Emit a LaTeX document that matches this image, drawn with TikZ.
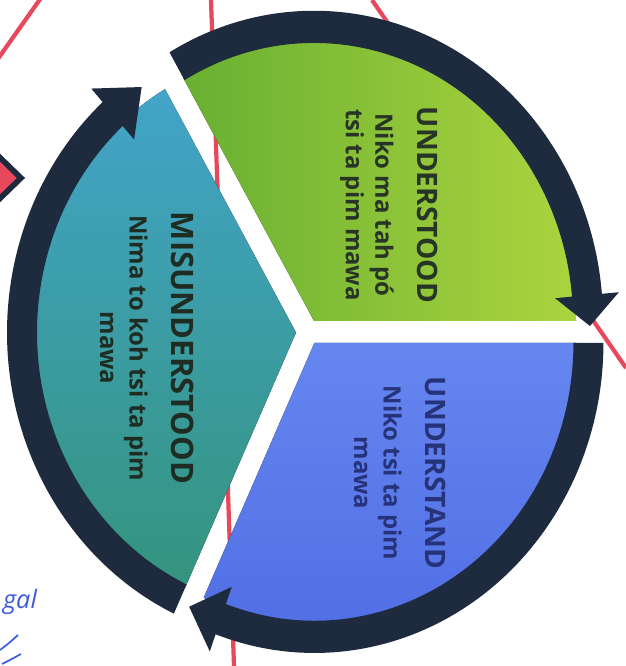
\documentclass[tikz,border=0pt]{standalone}
\usepackage{fontspec}
\setmainfont{Open Sans}
\definecolor{ringnavy}{RGB}{30,42,62}
\definecolor{redline}{RGB}{232,72,92}
\definecolor{inkblue}{RGB}{60,90,220}
\definecolor{leafdark}{RGB}{104,176,50}
\definecolor{leaflight}{RGB}{172,212,62}
\definecolor{tealtop}{RGB}{66,164,200}
\definecolor{tealbottom}{RGB}{52,148,126}
\definecolor{bluetop}{RGB}{102,134,240}
\definecolor{bluebottom}{RGB}{80,110,228}
\definecolor{greentext}{RGB}{40,52,38}
\definecolor{bluetext}{RGB}{38,50,122}
\definecolor{tealtext}{RGB}{30,44,34}

\tikzset{
    greenpart/.style={left color=leafdark, right color=leaflight},
    tealpart/.style={top color=tealtop, bottom color=tealbottom},
    bluepart/.style={top color=bluetop, bottom color=bluebottom},
    sectortext/.style={rotate=-90, align=center, font=\bfseries\fontsize{17}{21}\selectfont},
    paperline/.style={redline, line width=3pt}
}
\newcommand{\parttitle}[2]{{\fontsize{#1}{#1}\selectfont #2}}

\begin{document}
\begin{tikzpicture}[x=0.025cm, y=0.025cm]
    \clip (0, 0) rectangle (626, 666);
    \fill[white] (0, 0) rectangle (626, 666);

    % lines on the paper behind the print
    \draw[paperline] (-5, 603) -- (43, 671);
    \draw[paperline] (211, 666) -- (234, 0);
    \draw[paperline] (372, 666) -- (626, 298);
    \draw[fill=redline, draw=ringnavy, line width=4pt] (-12, 520) -- (21, 488) -- (-12, 456);

    % three parts, each with its arrow
    \begin{scope}[shift={(308, 334)}, yscale=1.073]
    \foreach \from/\to/\base/\tip/\look in {0/120/5/-1/greenpart, 120/245/132/124/tealpart, 245/360/250/243/bluepart}{
        \begin{scope}[shift={({(\from+\to)/2}:12)}]
            \fill[\look] (0, 0) -- (\from:262) arc[start angle=\from, end angle=\to, radius=262] -- cycle;
            \fill[ringnavy] (\to:289) arc[start angle=\to, end angle=\base, radius=289] -- (\base:306) -- (\tip:276) -- (\base:242) -- (\base:259) arc[start angle=\base, end angle=\to, radius=259] -- cycle;
        \end{scope}
    }
    \end{scope}

    \node[sectortext, text=greentext] (understood) at (389, 461){\parttitle{20}{UNDERSTOOD}\\[9pt]Niko ma tah pó\\tsi ta pim mawa};
    \node[sectortext, text=bluetext] (understand) at (400, 193){\parttitle{20}{UNDERSTAND}\\[9pt]Niko tsi ta pim\\mawa};
    \node[sectortext, text=tealtext] (misunderstood) at (147, 318){\parttitle{22}{MISUNDERSTOOD}\\[9pt]Nima to koh tsi ta pim\\mawa};

    % signature
    \node[text=inkblue, font=\itshape\fontsize{18}{18}\selectfont] (sig) at (20, 64){gal};
    \draw[inkblue, line width=1.2pt] (0, 16) .. controls (8, 22) .. (18, 31);
    \draw[inkblue, line width=1.2pt] (2, 2) .. controls (10, 6) .. (21, 12);
\end{tikzpicture}
\end{document}
